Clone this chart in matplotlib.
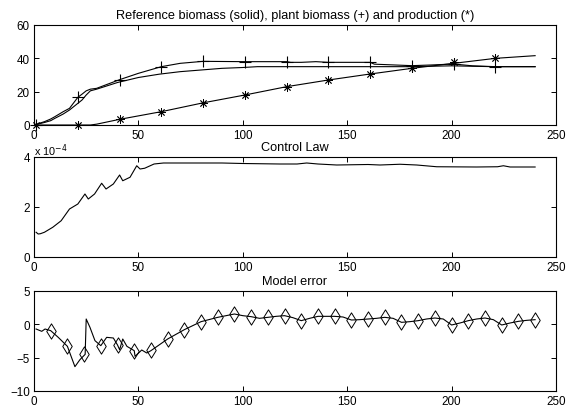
import matplotlib
matplotlib.use("Agg")
import matplotlib.pyplot as plt
import numpy as np
from matplotlib.path import Path
from matplotlib.ticker import FuncFormatter

plt.rcParams['font.family'] = ['Liberation Sans', 'DejaVu Sans']

# ---- Top panel: biomass ----
ref_t = [0, 5, 8, 10, 14, 17, 20, 23, 25, 27, 30, 40, 50, 60, 70, 80, 90, 100, 107, 120, 140, 160, 180, 200, 220, 240]
ref_y = [0, 1.5, 2.6, 4, 6.6, 9, 12, 15, 18, 20.5, 21.5, 25.5, 28.5, 30.5, 32, 33, 34, 34.5, 35, 35, 35, 35, 35, 35.5, 35, 35]

plant_t = [0, 5, 8, 10, 14, 17, 21, 23, 25, 27, 30, 41, 50, 61, 70, 81, 101, 121, 123, 128, 135, 141, 161, 163, 181, 190, 201, 210, 221, 240]
plant_y = [0, 2, 3.6, 5, 8, 10, 16.6, 18.5, 20.5, 21.5, 22, 27.2, 31, 35, 37, 38.2, 38, 38, 37.6, 37.6, 38, 37.6, 37.6, 36.5, 35.6, 36, 36.6, 35.5, 35, 35]

prod_t = [0, 27, 30, 41, 61, 81, 101, 121, 141, 161, 181, 201, 221, 240]
prod_y = [0, 0, 0.5, 3.4, 8, 13.3, 18, 23, 27, 30.6, 34, 37, 40, 41.6]

mark_t = [1, 21, 41, 61, 81, 101, 121, 141, 161, 181, 201, 221]
plant_mark = [0, 16.6, 27.2, 35, 38.2, 38, 38, 37.6, 37.6, 35.6, 36.6, 35]
prod_mark = [0, 0, 3.4, 8, 13.3, 18, 23, 27, 30.6, 34, 37.6, 40]

# ---- Middle panel: control law ----
ctl_t = [1, 2, 3, 5, 9, 13, 17, 21, 24.4, 26, 29, 32.4, 34.5, 38, 41, 42.5, 46, 49.2, 50.8, 53, 57.5, 62,
         90, 100, 117.8, 126, 130.6, 136, 145, 160, 165.7, 175.3, 183.3, 192.9, 212, 222, 224.8, 228, 240]
ctl_u = [0.99e-4, 0.92e-4, 0.93e-4, 0.99e-4, 1.19e-4, 1.45e-4, 1.92e-4, 2.12e-4, 2.52e-4, 2.32e-4, 2.52e-4,
         2.95e-4, 2.72e-4, 2.92e-4, 3.28e-4, 3.05e-4, 3.19e-4, 3.65e-4, 3.52e-4, 3.55e-4, 3.72e-4, 3.76e-4,
         3.76e-4, 3.74e-4, 3.72e-4, 3.72e-4, 3.76e-4, 3.72e-4, 3.68e-4, 3.70e-4, 3.68e-4, 3.71e-4, 3.68e-4,
         3.61e-4, 3.60e-4, 3.61e-4, 3.65e-4, 3.60e-4, 3.60e-4]

# ---- Bottom panel: model error ----
err_t = [1, 3.7, 5.3, 8, 11.6, 16, 19.6, 22, 24.5, 25, 26.8, 29.2, 32, 34.8, 38, 40, 41, 42.5, 44.5, 48, 48.4,
         51.6, 54, 56, 64, 72, 80, 88, 96, 100, 104, 108, 112, 116, 120, 124, 128, 132, 136, 140, 144, 148,
         152, 156, 160, 164, 168, 172, 176, 180, 184, 188, 192, 196, 200, 204, 208, 212, 216, 220, 224, 228,
         232, 236, 240]
err_e = [-0.7, -1.05, -0.7, -0.95, -1.95, -3.3, -6.35, -5.3, -4.5, 0.8, -0.45, -2.45, -3.2, -1.95, -2.05,
         -3.1, -3.8, -2.2, -3.3, -3.95, -4.8, -3.85, -4.3, -3.95, -2.2, -0.8, 0.4, 1.05, 1.55, 1.3, 1.15, 0.9,
         1.05, 1.2, 1.3, 1.0, 0.55, 0.9, 1.2, 1.2, 1.2, 1.1, 0.65, 0.7, 0.8, 0.9, 1.05, 0.9, 0.3, 0.4, 0.55,
         0.8, 0.95, 0.8, -0.1, 0.2, 0.55, 0.8, 0.95, 0.7, -0.1, 0.2, 0.45, 0.6, 0.7]

dia_t = [8, 16, 24, 32, 40, 48, 56, 64, 72, 80, 88, 96, 104, 112, 120, 128, 136, 144, 152, 160, 168, 176,
         184, 192, 200, 208, 216, 224, 232, 240]
dia_e = [-0.95, -3.3, -4.45, -3.3, -3.1, -3.95, -3.8, -2.2, -0.8, 0.4, 1.05, 1.55, 1.15, 1.05, 1.3, 0.55,
         1.2, 1.2, 0.65, 0.8, 1.05, 0.3, 0.55, 0.95, -0.1, 0.55, 0.95, -0.1, 0.45, 0.7]

xticks = [0, 50, 100, 150, 200, 250]

fig = plt.figure(figsize=(5.74, 4.14), dpi=100)
W, H = 574, 414
def ax_at(top, bottom):
    return fig.add_axes([34 / W, 1 - bottom / H, (556 - 34) / W, (bottom - top) / H])

ax1 = ax_at(26, 126)
ax2 = ax_at(158, 258)
ax3 = ax_at(292, 392)

lw = 0.8
fs = 8.4
tfs = 9.2
for ax in (ax1, ax2, ax3):
    ax.set_xlim(0, 250)
    ax.set_xticks(xticks)
    ax.tick_params(direction='in', top=True, right=True, length=3.5, width=0.7,
                   labelsize=fs, pad=3)
    for s in ax.spines.values():
        s.set_linewidth(0.8)

ax1.plot(ref_t, ref_y, color='black', lw=lw)
ax1.plot(plant_t, plant_y, color='black', lw=lw)
ax1.plot(prod_t, prod_y, color='black', lw=lw)
ax1.plot(mark_t, plant_mark, linestyle='none', marker='+', ms=8, mew=0.8, color='black', clip_on=False)
ax1.plot(mark_t, prod_mark, linestyle='none', marker=(8, 2, 0), ms=6, mew=0.6, color='black', clip_on=False)
ax1.set_ylim(0, 60)
ax1.set_yticks([0, 20, 40, 60])
ax1.set_title('Reference biomass (solid), plant biomass (+) and production (*)', fontsize=tfs, pad=5)

ax2.plot(ctl_t, ctl_u, color='black', lw=lw)
ax2.set_ylim(0, 4e-4)
ax2.set_yticks([0, 2e-4, 4e-4])
ax2.yaxis.set_major_formatter(FuncFormatter(lambda v, p: f"{v * 1e4:g}"))
ax2.set_title('Control Law', fontsize=tfs, pad=5)
fig.text(34 / W, 1 - 151 / H, r'x 10$^{-4}$', fontsize=7.8, ha='left', va='center')

diamond = Path([(0, 1), (0.62, 0), (0, -1), (-0.62, 0), (0, 1)],
               [Path.MOVETO, Path.LINETO, Path.LINETO, Path.LINETO, Path.CLOSEPOLY])
ax3.plot(err_t, err_e, color='black', lw=lw)
ax3.plot(dia_t, dia_e, linestyle='none', marker=diamond, ms=11, mew=0.7,
         markerfacecolor='none', markeredgecolor='black')
ax3.set_ylim(-10, 5)
ax3.set_yticks([-10, -5, 0, 5])
ax3.set_title('Model error', fontsize=tfs, pad=5)

fig.savefig('out.png', dpi=100, facecolor='white')
